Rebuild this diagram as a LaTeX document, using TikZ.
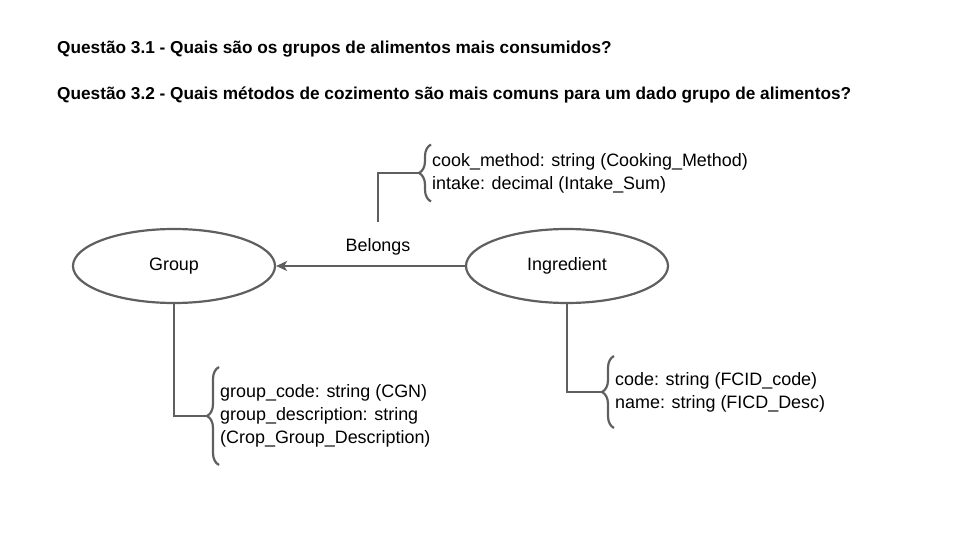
\documentclass[tikz,border=0pt]{standalone}
\usepackage{fontspec}
\setmainfont{Liberation Sans}
\usepackage{xcolor}
\usepackage{tikz}
\usetikzlibrary{shapes,arrows.meta,positioning,decorations.pathreplacing}
\definecolor{linegray}{HTML}{5F5F5F}

\begin{document}
\begin{tikzpicture}[
    x=1bp, y=-1bp,
    every node/.style={font=\fontsize{18}{23}\selectfont},
    entity/.style={ellipse, draw=linegray, line width=2.2bp, minimum width=202bp, minimum height=74bp},
    attrs/.style={anchor=west, align=left, inner xsep=0pt},
    link/.style={draw=linegray, line width=2.2bp},
    attrbrace/.style={link, decorate, decoration={brace, amplitude=12bp}},
    question/.style={anchor=base west, inner sep=0pt, font=\fontsize{17.3}{20}\selectfont\bfseries}
]
\useasboundingbox (0,0) rectangle (960,540);

\node[question] (q1) at (57,54) {Questão 3.1 - Quais são os grupos de alimentos mais consumidos?};
\node[question] (q2) at (57,100) {Questão 3.2 - Quais métodos de cozimento são mais comuns para um dado grupo de alimentos?};

\node[entity] (group) at (174,266) {Group};
\node[entity] (ingredient) at (567,266) {Ingredient};
\draw[link, -{Stealth[length=11bp, width=10bp, inset=3bp]}] (ingredient) -- (group);
\node (belongs) at (378,247) {Belongs};

% attributes
\node[attrs, inner ysep=8.5bp] (relattr) at (432,173) {cook\_method: string (Cooking\_Method)\\intake: decimal (Intake\_Sum)};
\node[attrs, inner ysep=17.5bp] (groupattr) at (220,416) {group\_code: string (CGN)\\group\_description: string\\(Crop\_Group\_Description)};
\node[attrs, inner ysep=16bp] (ingrattr) at (615,392) {code: string (FCID\_code)\\name: string (FICD\_Desc)};

\draw[attrbrace] ([xshift=-1bp]relattr.south west) -- ([xshift=-1bp]relattr.north west);
\draw[attrbrace] ([xshift=-1bp]groupattr.south west) -- ([xshift=-1bp]groupattr.north west);
\draw[attrbrace] ([xshift=-1bp]ingrattr.south west) -- ([xshift=-1bp]ingrattr.north west);

\coordinate[left=13bp of relattr.west] (reltip);
\coordinate[left=13bp of groupattr.west] (grouptip);
\coordinate[left=13bp of ingrattr.west] (ingrtip);

\draw[link] ([yshift=13bp]belongs.north) |- (reltip);
\draw[link] (group.south) |- (grouptip);
\draw[link] (ingredient.south) |- (ingrtip);
\end{tikzpicture}
\end{document}
